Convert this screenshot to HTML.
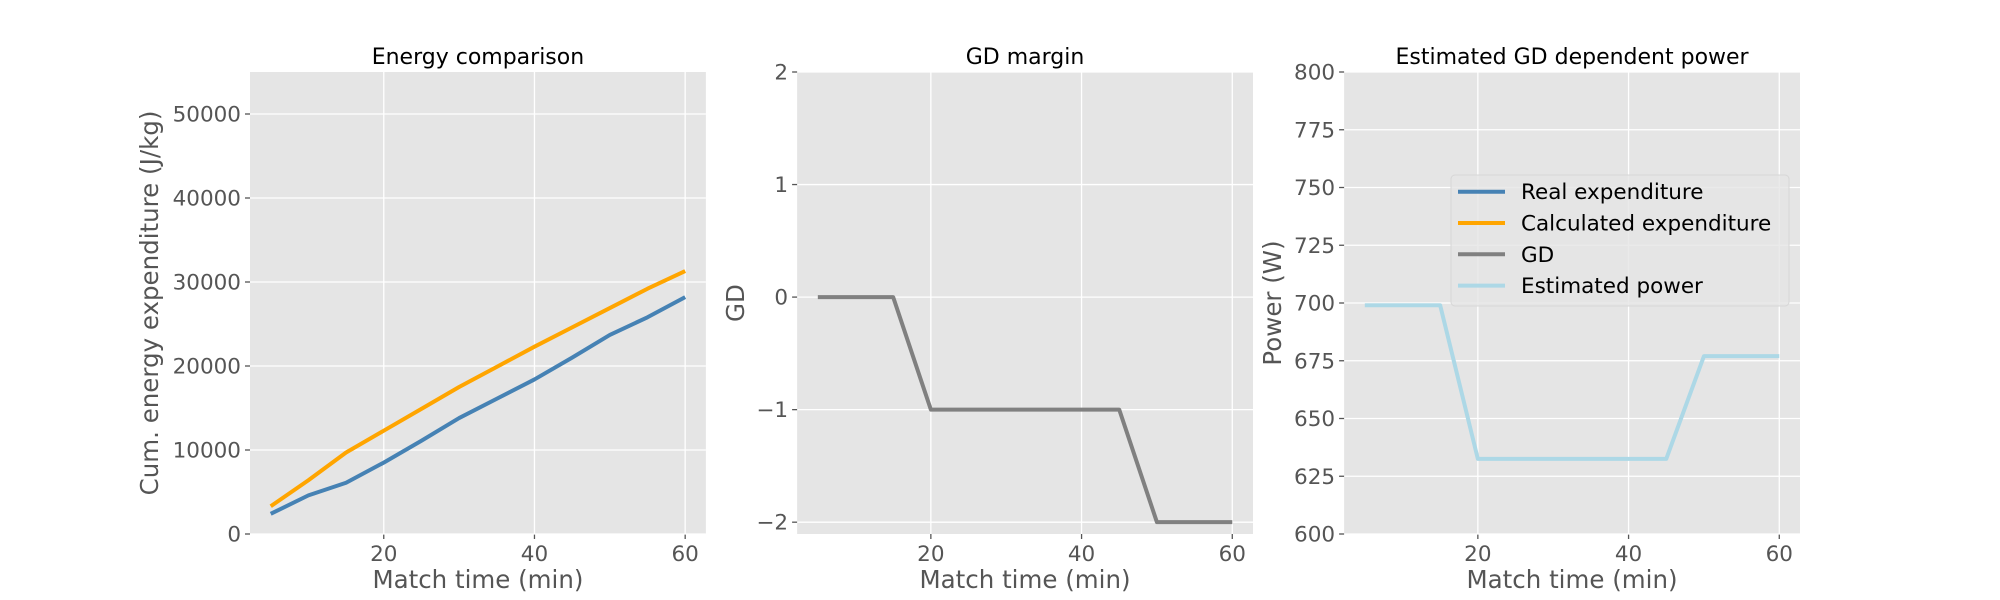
<!DOCTYPE html>
<html><head><meta charset="utf-8"><style>
body{margin:0;background:#fff}
svg{display:block;font-family:"DejaVu Sans","Liberation Sans",sans-serif}
</style></head><body>
<svg id="c" width="2000" height="600" xmlns="http://www.w3.org/2000/svg"></svg>
<script>
const times=[5,10,15,20,25,30,35,40,45,50,55,60];
const realExp=[2400,4600,6100,8500,11100,13800,16100,18400,21000,23700,25800,28200];
const calcExp=[3300,6400,9700,12300,14900,17500,19900,22300,24600,26900,29200,31300];
const gd=[0,0,0,-1,-1,-1,-1,-1,-1,-2,-2,-2];
const power=[699,699,699,632.5,632.5,632.5,632.5,632.5,632.5,677,677,677];
const xTicks=[20,40,60];
const yTicks1=[0,10000,20000,30000,40000,50000];
const yTicks2=[-2,-1,0,1,2];
const yTicks3=[600,625,650,675,700,725,750,775,800];
const legendLabels=["Real expenditure","Calculated expenditure","GD","Estimated power"];
const legendColors=["#4682b4","#ffa500","#808080","#add8e6"];

const NS="http://www.w3.org/2000/svg";
const svg=document.getElementById('c');
function mk(tag,attrs,parent){const e=document.createElementNS(NS,tag);for(const k in attrs)e.setAttribute(k,attrs[k]);(parent||svg).appendChild(e);return e;}
const TOP=72,BOT=534,W=455.9;
const lefts=[250,797.1,1344.1];
const xmin=2.25,xmax=62.75;

function panel(i,title,ylabel,ymin,ymax,yticks,series,labelX,name){
  const L=lefts[i];
  const g=mk('g',{});
  
  
  const sx=v=>L+(v-xmin)/(xmax-xmin)*W;
  const sy=v=>BOT-(v-ymin)/(ymax-ymin)*(BOT-TOP);
  const bg=mk('rect',{x:L,y:TOP,width:W,height:BOT-TOP,fill:'#e5e5e5'},g);
  
  
  xTicks.forEach(t=>{const x=sx(t);
    mk('line',{x1:x,x2:x,y1:TOP,y2:BOT,stroke:'#fff','stroke-width':1.3},g);
    mk('line',{x1:x,x2:x,y1:BOT,y2:BOT+5,stroke:'#555','stroke-width':1.3},g);
    const tx=mk('text',{x:x,y:BOT+27,'text-anchor':'middle','font-size':21.5,fill:'#555'},g);tx.textContent=t;
    
    
  });
  yticks.forEach(t=>{const y=sy(t);
    mk('line',{x1:L,x2:L+W,y1:y,y2:y,stroke:'#fff','stroke-width':1.3},g);
    mk('line',{x1:L-5,x2:L,y1:y,y2:y,stroke:'#555','stroke-width':1.3},g);
    const tx=mk('text',{x:L-9,y:y+7.5,'text-anchor':'end','font-size':21.5,fill:'#555'},g);
    tx.textContent=t<0?'\u2212'+Math.abs(t):t;
    
    
  });
  series.forEach(s=>{
    const p=mk('polyline',{points:times.map((t,k)=>sx(t)+','+sy(s.v[k])).join(' '),fill:'none',stroke:s.c,'stroke-width':4,'stroke-linejoin':'round'},g);
    
    
  });
  const tt=mk('text',{x:L+W/2,y:64,'text-anchor':'middle','font-size':22,fill:'#000'},g);tt.textContent=title;
  
  
  const xl=mk('text',{x:L+W/2,y:588,'text-anchor':'middle','font-size':24.5,fill:'#555'},g);xl.textContent='Match time (min)';
  
  
  const cy=(TOP+BOT)/2;
  const yl=mk('text',{x:labelX,y:cy,'text-anchor':'middle','font-size':24.5,fill:'#555',transform:`rotate(-90 ${labelX} ${cy})`},g);yl.textContent=ylabel;
  
  
}
panel(0,'Energy comparison','Cum. energy expenditure (J/kg)',0,55000,yTicks1,
  [{v:realExp,c:'#4682b4',n:'real-expenditure-line'},{v:calcExp,c:'#ffa500',n:'calculated-expenditure-line'}],158,'energy-panel');
panel(1,'GD margin','GD',-2.105,2,yTicks2,[{v:gd,c:'#808080',n:'gd-line'}],744,'gd-panel');
panel(2,'Estimated GD dependent power','Power (W)',600,800,yTicks3,[{v:power,c:'#add8e6',n:'estimated-power-line'}],1281,'power-panel');

const lg=mk('g',{});


mk('rect',{x:1451,y:175,width:338,height:131,rx:4,fill:'#e5e5e5','fill-opacity':0.8,stroke:'#d6d6d6','stroke-width':1},lg);
legendLabels.forEach((lab,k)=>{
  const y=191.7+k*31.3;
  const ln=mk('line',{x1:1458,x2:1505,y1:y,y2:y,stroke:legendColors[k],'stroke-width':4},lg);
  
  
  const t=mk('text',{x:1521,y:y+7.5,'font-size':21.5,fill:'#000'},lg);t.textContent=lab;
  
  
});
</script>
</body></html>
